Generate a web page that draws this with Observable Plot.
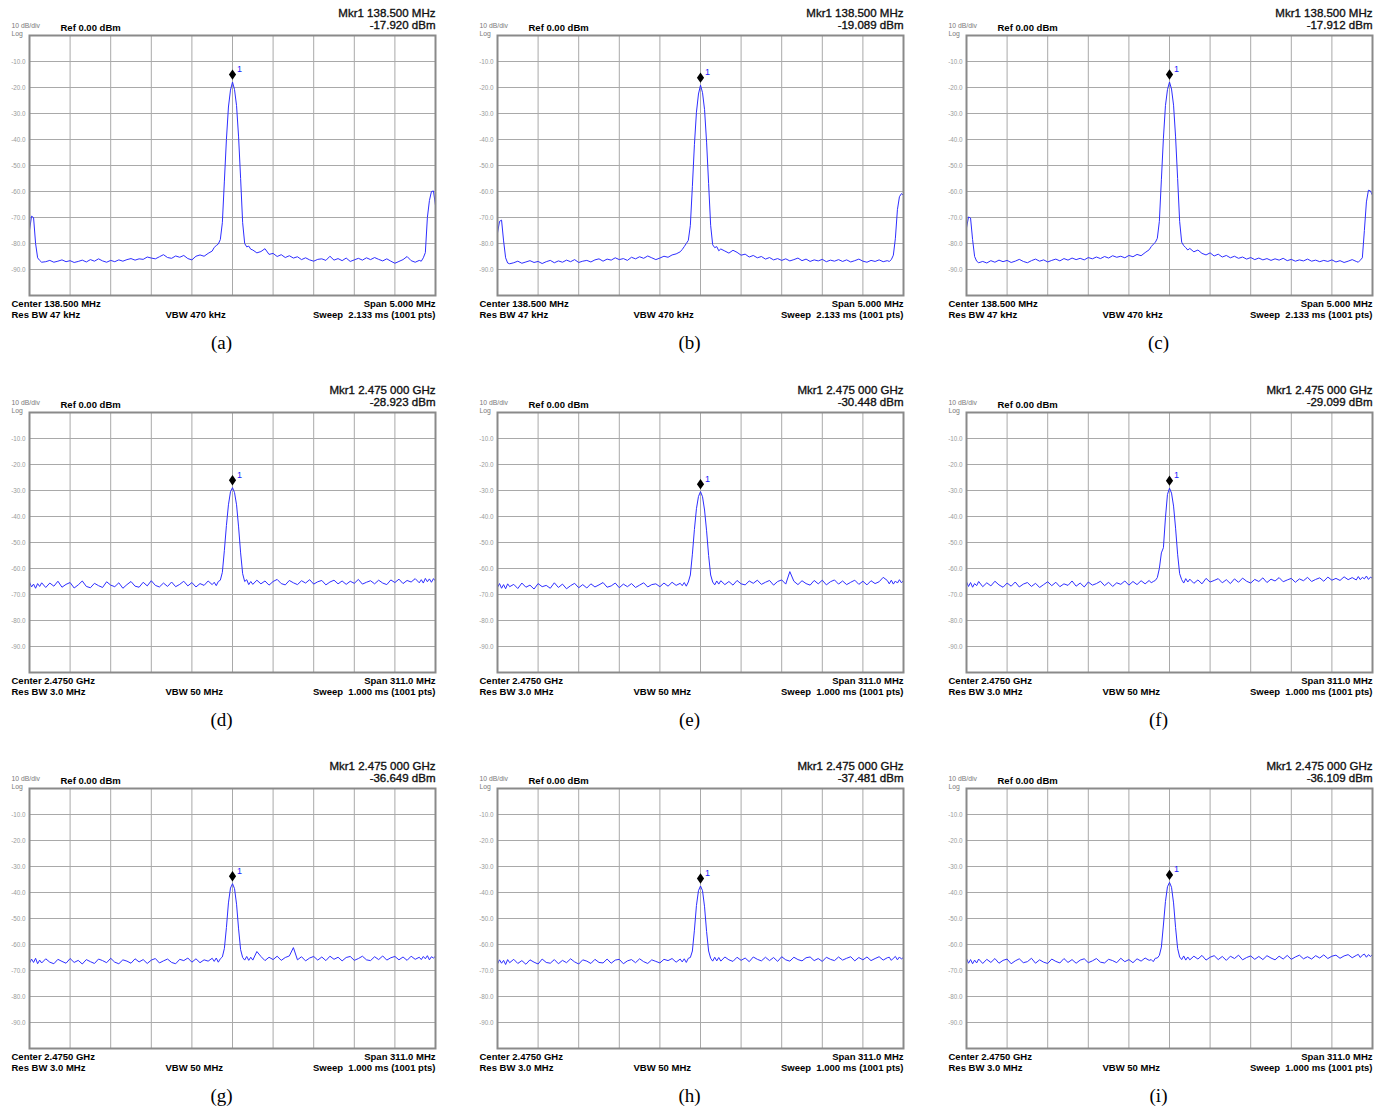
<!DOCTYPE html>
<html><head><meta charset="utf-8">
<script src="https://cdn.jsdelivr.net/npm/d3@7"></script>
<script src="https://cdn.jsdelivr.net/npm/@observablehq/plot@0.6"></script>
<style>
body{margin:0;background:#fff;}
#root{position:relative;width:1388px;height:1106px;overflow:hidden;background:#fff;}
.panel{position:absolute;}
.panel svg{overflow:visible;}
</style></head><body><div id="root"></div>
<script>
// Sample positions across the screen, in divisions (0..10)
const sampleDiv = [
  ...d3.range(0, 7).map(i => i * 0.05),
  ...d3.range(4, 46).map(i => i / 10),
  ...d3.range(91, 110).map(i => i / 20),
  ...d3.range(55, 97).map(i => i / 10),
  ...d3.range(193, 201).map(i => i / 20)
];

// Trace levels (dBm)
const levelsA = [
  -75, -69.5, -70, -80, -85.5, -86.5, -87.2,
  -87.0, -86.5, -87.2, -86.8, -86.3, -87.0,
  -86.6, -87.3, -86.9, -86.4, -87.1, -86.2,
  -86.8, -85.9, -86.7, -87.2, -86.5, -87.0,
  -86.3, -86.8, -86.2, -85.8, -86.4, -85.9,
  -86.1, -85.2, -85.6, -85.9, -85.1, -84.3,
  -85.4, -85.7, -84.8, -85.3, -84.6, -85.8,
  -86.3, -84.9, -84.4, -84.9, -83.8, -82.9,
  -81.5, -80.8, -80.2, -78.5, -72, -56, -40, -27.5, -21, -17.9, -20.8, -27, -39, -55, -72, -80, -81.3, -81, -82.2,
  -82.5, -83.6, -83.1, -82.0, -84.2, -83.8,
  -85.0, -84.3, -85.4, -84.7, -85.6, -85.1,
  -86.2, -85.5, -86.3, -86.8, -86.1, -85.9,
  -86.5, -84.9, -86.4, -85.8, -86.6, -85.6,
  -86.9, -86.3, -85.7, -86.4, -85.5, -86.2,
  -85.4, -86.1, -86.7, -85.9, -86.8, -87.6,
  -86.9, -86.2, -85.0, -86.6, -87.2, -86.5,
  -86.8, -85.5, -83.5, -70, -63.5, -60, -59.8, -65.4
];
const levelsB = [
  -76, -71.5, -71, -79, -85.5, -87.5, -87.8,
  -87.4, -86.8, -87.6, -87.1, -86.6, -87.3,
  -86.9, -87.7, -87.0, -86.5, -87.4, -86.7,
  -87.2, -86.4, -87.0, -86.2, -87.3, -86.8,
  -86.5, -87.1, -86.3, -85.9, -86.8, -86.0,
  -86.4, -85.5, -86.2, -85.8, -86.5, -85.3,
  -85.9, -85.1, -85.7, -84.8, -85.5, -86.2,
  -85.6, -84.9, -85.3, -84.4, -84.0, -83.2,
  -82.3, -81.2, -80.0, -78.8, -73, -58, -42, -29.5, -22.5, -19.1, -22, -28.5, -41, -57, -73, -80.5, -81.6, -81.2, -82.8,
  -82.1, -82.9, -83.7, -82.6, -83.4, -84.5,
  -84.1, -85.2, -84.6, -85.5, -85.0, -86.0,
  -85.4, -86.3, -85.8, -86.5, -85.9, -86.7,
  -86.2, -85.6, -86.6, -86.0, -86.9, -86.3,
  -86.7, -86.1, -87.0, -86.4, -86.8, -86.2,
  -86.9, -86.3, -87.1, -86.6, -86.0, -86.8,
  -87.2, -86.5, -86.9, -86.3, -87.0, -86.6,
  -86.9, -86.2, -84.5, -78, -67, -62, -60.8, -61.5
];
const levelsC = [
  -74, -69.8, -70.2, -78.5, -85, -86.8, -87.4,
  -86.9, -87.5, -86.6, -87.2, -86.4, -87.0,
  -86.5, -87.3, -86.8, -86.1, -86.9, -87.4,
  -86.6, -86.0, -86.8, -86.3, -87.1, -86.5,
  -86.0, -86.7, -85.8, -86.4, -85.6, -86.2,
  -85.7, -86.3, -85.4, -85.9, -85.2, -85.8,
  -85.0, -85.6, -84.7, -85.3, -84.9, -85.5,
  -84.6, -85.1, -84.2, -84.7, -83.5, -82.4,
  -81.2, -80.3, -79.6, -78.0, -71.5, -55.5, -39.5, -27, -20.8, -17.9, -20.6, -26.8, -39, -55, -71.5, -79.5, -80.8, -81.6, -82.5,
  -81.9, -83.2, -82.5, -83.8, -84.4, -83.6,
  -84.8, -84.1, -85.2, -84.6, -85.5, -84.9,
  -85.7, -85.2, -86.0, -85.4, -86.2, -85.6,
  -86.3, -85.8, -86.5, -85.9, -86.4, -85.7,
  -86.6, -86.1, -86.8, -86.3, -86.7, -86.0,
  -86.8, -86.4, -87.0, -86.5, -86.9, -86.3,
  -87.1, -86.6, -87.3, -86.8, -86.2, -86.9,
  -87.2, -86.4, -85.5, -75, -64, -59.5, -59.8, -61.5
];
const levelsD = [
  -65.2, -67.1, -66.0, -67.6, -65.8, -66.9, -65.5,
  -67.3, -65.6, -66.8, -64.9, -67.2, -66.1,
  -65.4, -67.5, -66.3, -64.8, -66.9, -67.4,
  -65.7, -66.6, -67.3, -65.1, -66.4, -67.0,
  -65.5, -67.6, -66.2, -65.0, -66.8, -67.2,
  -65.3, -66.7, -64.7, -66.5, -67.1, -65.6,
  -66.9, -65.2, -67.0, -66.1, -64.9, -66.7,
  -65.4, -67.1, -65.8, -66.5, -64.8, -66.2,
  -65.3, -66.6, -65.0, -64.5, -61.5, -53, -43.5, -35.5, -30.5, -28.9, -30.8, -35.5, -44, -54, -62, -65, -64.3, -66.2, -65.0,
  -66.1, -64.5, -65.9, -64.8, -66.4, -65.0,
  -64.2, -65.8, -66.3, -64.6, -65.5, -66.2,
  -64.7, -65.6, -64.3, -66.0, -65.1, -64.6,
  -66.3, -65.2, -64.5, -65.9, -64.8, -66.1,
  -64.9, -65.7, -64.2, -66.0, -65.3, -64.7,
  -65.9, -64.5, -65.6, -66.2, -64.4, -65.4,
  -64.1, -65.8, -64.6, -65.2, -63.9, -65.5,
  -64.3, -65.6, -63.8, -65.1, -64.0, -65.3, -63.9, -64.8
];
const levelsE = [
  -67.3, -65.8, -67.6, -66.2, -67.8, -65.9, -67.0,
  -66.1, -67.7, -65.6, -67.2, -66.4, -67.9,
  -65.8, -67.0, -66.5, -67.6, -65.5, -67.3,
  -66.0, -67.8, -66.6, -65.7, -67.4, -66.2,
  -67.5, -65.9, -67.1, -66.3, -65.4, -67.2,
  -66.7, -65.6, -67.4, -66.0, -67.0, -65.8,
  -67.3, -66.4, -65.5, -67.1, -66.2, -65.9,
  -67.0, -65.6, -66.8, -65.3, -66.5, -65.7,
  -66.6, -65.4, -66.8, -65.2, -62.5, -54.5, -45, -37, -32.3, -30.45, -32.4, -37.5, -45.5, -55, -62.5, -65.2, -66.3, -64.8, -66.0,
  -64.7, -66.2, -65.0, -66.4, -64.6, -65.9,
  -66.3, -64.8, -65.7, -64.5, -66.1, -65.3,
  -64.6, -66.4, -65.0, -64.4, -66.0, -61.2,
  -64.9, -66.2, -64.7, -65.8, -66.4, -64.6,
  -65.9, -64.5, -66.3, -65.1, -64.4, -66.0,
  -64.8, -66.2, -65.3, -64.5, -66.1, -64.9,
  -66.3, -64.7, -65.8, -65.1, -63.4, -64.6,
  -65.9, -64.5, -66.0, -64.8, -65.6, -64.3, -65.5, -64.6
];
const levelsF = [
  -65.1, -66.9, -65.4, -67.2, -65.8, -66.6, -65.0,
  -67.0, -65.5, -66.7, -64.9, -66.3, -67.2,
  -65.6, -66.8, -65.2, -67.1, -66.0, -65.4,
  -66.9, -65.7, -67.3, -66.2, -65.1, -66.6,
  -65.3, -67.0, -65.9, -66.5, -64.8, -66.8,
  -65.6, -67.1, -65.2, -66.4, -65.8, -64.9,
  -66.6, -65.3, -66.9, -65.5, -66.1, -64.8,
  -66.4, -65.0, -66.2, -64.7, -65.9, -64.6,
  -65.5, -65.0, -64.6, -63.5, -60, -54, -52, -40.5, -31.5, -29.1, -31, -36, -44.5, -54.5, -62, -64.3, -65.6, -63.9, -65.2,
  -64.1, -65.7, -64.4, -65.9, -63.8, -65.2,
  -64.6, -63.9, -65.5, -64.3, -65.8, -64.0,
  -65.3, -63.7, -64.9, -65.6, -64.2, -65.0,
  -63.6, -65.4, -64.1, -64.8, -63.5, -65.1,
  -64.4, -63.8, -65.3, -64.0, -64.7, -63.4,
  -65.0, -64.2, -63.6, -64.9, -63.3, -64.5,
  -63.8, -64.6, -63.2, -64.3, -63.5, -64.4,
  -63.1, -64.3, -63.4, -64.0, -62.9, -64.2, -63.3, -63.8
];
const levelsG = [
  -67.2, -65.6, -66.9, -65.3, -67.4, -66.0, -67.1,
  -65.5, -66.8, -67.4, -65.7, -66.5, -67.2,
  -65.4, -66.9, -66.1, -67.5, -65.8, -66.6,
  -67.3, -65.6, -66.2, -67.0, -65.3, -66.8,
  -67.4, -65.9, -66.4, -67.2, -65.5, -66.7,
  -65.8, -67.3, -66.0, -65.4, -67.1, -66.3,
  -65.6, -66.9, -67.4, -65.7, -66.2, -65.2,
  -66.8, -65.5, -67.0, -65.9, -66.4, -65.3,
  -66.5, -65.2, -66.8, -65.5, -64.8, -61.5, -53.5, -44, -38.3, -36.6, -38.5, -44.5, -54, -62, -65, -66.0, -64.6, -66.1, -64.9,
  -66.0, -62.7, -64.6, -66.2, -64.9, -65.8,
  -64.5, -66.1, -65.0, -64.4, -61.2, -65.9,
  -64.7, -66.3, -65.2, -64.6, -66.0, -64.8,
  -66.2, -64.5, -65.7, -64.9, -66.3, -65.0,
  -64.6, -66.1, -65.4, -64.5, -65.9, -66.2,
  -64.7, -65.8, -64.4, -66.0, -65.1, -64.6,
  -65.9, -64.8, -66.1, -64.5, -65.7, -64.9,
  -65.8, -64.6, -65.5, -64.3, -65.9, -64.7, -65.2, -64.5
];
const levelsH = [
  -67.5, -65.9, -67.2, -66.1, -67.7, -65.8, -67.0,
  -65.7, -67.3, -66.2, -67.6, -65.9, -66.8,
  -67.5, -65.6, -66.9, -67.2, -65.8, -67.4,
  -66.1, -67.0, -65.5, -66.7, -67.5, -65.9,
  -66.4, -67.3, -65.7, -66.9, -67.1, -65.6,
  -67.2, -66.0, -65.7, -67.4, -66.3, -65.8,
  -67.0, -65.5, -66.6, -67.3, -65.9, -66.5,
  -67.1, -65.7, -66.2, -65.4, -66.8, -65.6,
  -66.7, -65.5, -66.9, -65.3, -65.0, -62.5, -54.5, -45, -39.3, -37.5, -39.3, -45.5, -55, -62.5, -65.3, -66.4, -64.9, -66.3, -65.0,
  -66.4, -64.8, -65.9, -66.5, -64.9, -66.1,
  -65.2, -66.6, -64.8, -65.7, -66.3, -64.9,
  -66.2, -65.0, -66.5, -64.7, -65.9, -66.4,
  -64.9, -65.8, -66.3, -65.1, -64.8, -66.2,
  -65.4, -66.5, -64.9, -65.7, -66.2, -64.8,
  -66.0, -65.3, -64.7, -66.3, -65.0, -65.9,
  -64.8, -66.2, -65.4, -64.7, -66.0, -65.1,
  -64.9, -66.1, -65.3, -64.6, -65.9, -64.8, -65.6, -64.9
];
const levelsI = [
  -65.4, -67.2, -65.8, -67.4, -66.0, -67.1, -65.6,
  -67.3, -65.7, -66.9, -65.4, -67.2, -66.1,
  -65.6, -67.4, -66.3, -65.5, -67.0, -66.6,
  -65.3, -67.2, -65.9, -66.8, -67.3, -65.6,
  -66.5, -67.1, -65.4, -66.9, -65.8, -67.2,
  -66.0, -65.5, -67.0, -66.3, -65.4, -66.8,
  -67.1, -65.7, -66.2, -67.0, -65.3, -66.6,
  -65.8, -67.0, -65.5, -66.4, -65.2, -66.1,
  -65.8, -66.6, -65.3, -65.2, -64.2, -61, -52.5, -43.5, -37.8, -36.1, -38, -44, -53.5, -61.5, -64.8, -65.8, -64.4, -66.0, -64.8,
  -65.9, -64.5, -65.6, -64.2, -66.0, -64.9,
  -64.3, -65.8, -64.6, -66.1, -64.5, -65.4,
  -64.1, -65.9, -65.0, -64.4, -65.7, -64.6,
  -65.8, -64.3, -65.2, -65.9, -64.5, -65.6,
  -64.2, -65.7, -64.8, -64.1, -65.5, -64.7,
  -65.6, -64.3, -65.2, -64.0, -65.4, -64.5,
  -64.1, -65.3, -64.4, -63.9, -65.1, -64.2,
  -63.8, -65.0, -64.1, -63.7, -64.9, -63.9, -64.6, -63.8
];

const panelLetters = ["a", "b", "c", "d", "e", "f", "g", "h", "i"];
const traces = [levelsA, levelsB, levelsC, levelsD, levelsE, levelsF, levelsG, levelsH, levelsI];
const markerLevels = [-17.920, -19.089, -17.912, -28.923, -30.448, -29.099, -36.649, -37.481, -36.109];
const centerMHz = [138.5, 138.5, 138.5, 2475, 2475, 2475, 2475, 2475, 2475];
const spanMHz = [5, 5, 5, 311, 311, 311, 311, 311, 311];
const markerFreqText = ["138.500 MHz", "138.500 MHz", "138.500 MHz", "2.475 000 GHz", "2.475 000 GHz", "2.475 000 GHz", "2.475 000 GHz", "2.475 000 GHz", "2.475 000 GHz"];
const centerText = ["138.500 MHz", "138.500 MHz", "138.500 MHz", "2.4750 GHz", "2.4750 GHz", "2.4750 GHz", "2.4750 GHz", "2.4750 GHz", "2.4750 GHz"];
const spanText = ["5.000 MHz", "5.000 MHz", "5.000 MHz", "311.0 MHz", "311.0 MHz", "311.0 MHz", "311.0 MHz", "311.0 MHz", "311.0 MHz"];
const rbwText = ["47 kHz", "47 kHz", "47 kHz", "3.0 MHz", "3.0 MHz", "3.0 MHz", "3.0 MHz", "3.0 MHz", "3.0 MHz"];
const vbwText = ["470 kHz", "470 kHz", "470 kHz", "50 MHz", "50 MHz", "50 MHz", "50 MHz", "50 MHz", "50 MHz"];
const sweepText = ["2.133 ms (1001 pts)", "2.133 ms (1001 pts)", "2.133 ms (1001 pts)", "1.000 ms (1001 pts)", "1.000 ms (1001 pts)", "1.000 ms (1001 pts)", "1.000 ms (1001 pts)", "1.000 ms (1001 pts)", "1.000 ms (1001 pts)"];
const dbTicks = [-10, -20, -30, -40, -50, -60, -70, -80, -90];
const refLevel = 0, bottomLevel = -100;

// Layout (screen geometry)
const colLeft = [29, 497, 966];
const rowTop = [35, 412, 788];
const FW = 406, FH = 260, ML = 30, MT = 36, MR = 16, MB = 64;
const SANS = "'Liberation Sans', Arial, Helvetica, sans-serif";
const SERIF = "'Liberation Serif', 'Times New Roman', serif";
const TRACE = "#2e2eff";

const tallDiamond = {
  draw(ctx) {
    ctx.moveTo(0, -5.2); ctx.lineTo(3.6, 0); ctx.lineTo(0, 5.2); ctx.lineTo(-3.6, 0); ctx.closePath();
  }
};

const root = document.getElementById("root");

function label(str, anchor, dx, dy, opts = {}) {
  return Plot.text([str], {
    text: d => d, frameAnchor: anchor, dx, dy, lineAnchor: "bottom",
    fontFamily: SANS, fontSize: 9.5, fontWeight: "bold", fill: "#000", ...opts
  });
}

panelLetters.forEach((letter, p) => {
  const row = Math.floor(p / 3), col = p % 3;
  const c = centerMHz[p], s = spanMHz[p];
  const lo = c - s / 2, hi = c + s / 2;
  const lv = traces[p];
  if (lv.length !== sampleDiv.length) console.warn("length mismatch", letter, lv.length, sampleDiv.length);
  const data = sampleDiv.map((d, i) => ({f: lo + d * s / 10, db: lv[i]}));
  const gridFreqs = d3.range(1, 10).map(k => lo + k * s / 10);
  const marker = [{f: c, db: markerLevels[p]}];

  const chart = Plot.plot({
    width: ML + FW + MR, height: MT + FH + MB,
    marginLeft: ML, marginTop: MT, marginRight: MR, marginBottom: MB,
    x: {domain: [lo, hi], axis: null},
    y: {domain: [bottomLevel, refLevel], axis: null},
    style: {background: "transparent", overflow: "visible", fontFamily: SANS},
    marks: [
      Plot.gridY(dbTicks, {stroke: "#a9a9a9", strokeOpacity: 1, strokeWidth: 1}),
      Plot.gridX(gridFreqs, {stroke: "#a9a9a9", strokeOpacity: 1, strokeWidth: 1}),
      Plot.axisY(dbTicks, {tickSize: 0, tickPadding: 4, tickFormat: d => d.toFixed(1), fontSize: 6.3, color: "#9a9a9a", label: null, fontFamily: SANS}),
      Plot.line(data, {x: "f", y: "db", stroke: TRACE, strokeWidth: 1, clip: true}),
      Plot.frame({stroke: "#8a8a8a", strokeWidth: 2}),
      Plot.dot(marker, {x: "f", y: "db", symbol: tallDiamond, fill: "#000", stroke: "none", dy: -7.5, r: 4}),
      Plot.text(marker, {x: "f", y: "db", text: () => "1", dx: 4.5, dy: -10, textAnchor: "start", lineAnchor: "bottom", fill: "#2020ff", fontSize: 9, fontFamily: SANS}),
      // header
      label("Mkr1 " + markerFreqText[p], "top-right", 0, -18.5, {textAnchor: "end", fontSize: 11.5, fontWeight: "normal", fill: "#111", stroke: "#111", strokeWidth: 0.35}),
      label(markerLevels[p].toFixed(3) + " dBm", "top-right", 0, -6.5, {textAnchor: "end", fontSize: 11.5, fontWeight: "normal", fill: "#111", stroke: "#111", strokeWidth: 0.35}),
      label("10 dB/div", "top-left", -18, -7.5, {textAnchor: "start", fontSize: 6.8, fontWeight: "normal", fill: "#7a7a7a"}),
      label("Log", "top-left", -18, 0.5, {textAnchor: "start", fontSize: 6.8, fontWeight: "normal", fill: "#7a7a7a"}),
      label("Ref 0.00 dBm", "top-left", 31, -5, {textAnchor: "start"}),
      // footer
      label("Center " + centerText[p], "bottom-left", -18, 11, {textAnchor: "start"}),
      label("Span " + spanText[p], "bottom-right", 0, 11, {textAnchor: "end"}),
      label("Res BW " + rbwText[p], "bottom-left", -18, 22, {textAnchor: "start"}),
      label("VBW " + vbwText[p], "bottom-left", 136, 22, {textAnchor: "start"}),
      label("Sweep\u00a0\u00a0" + sweepText[p], "bottom-right", 0, 22, {textAnchor: "end"}),
      // caption
      label("(" + letter + ")", "bottom", -11, 53, {textAnchor: "middle", fontFamily: SERIF, fontSize: 19, fontWeight: "normal"})
    ]
  });
  const holder = document.createElement("div");
  holder.className = "panel";
  holder.style.left = (colLeft[col] - ML) + "px";
  holder.style.top = (rowTop[row] - MT) + "px";
  holder.appendChild(chart);
  root.appendChild(holder);
});
</script></body></html>
